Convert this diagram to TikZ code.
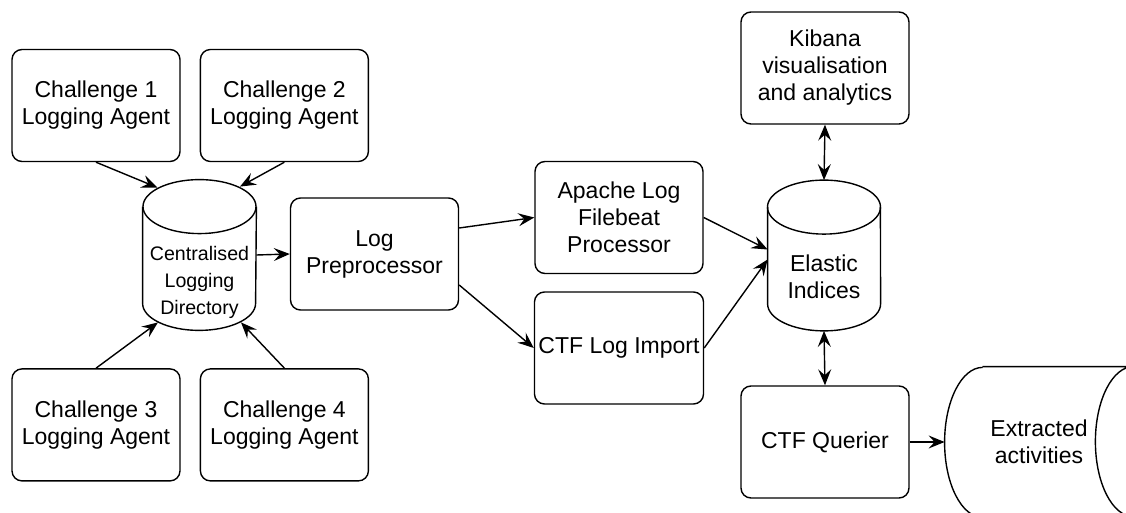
\documentclass[tikz,border=0pt]{standalone}
\usepackage{fontspec}
\setmainfont{Liberation Sans}
\usetikzlibrary{arrows.meta,positioning}
\tikzset{%
  agent/.style={draw,rounded corners=5pt,line width=0.7pt,align=center,
    minimum width=84pt,minimum height=56pt,inner sep=2pt,
    font=\fontsize{11.5}{13.5}\selectfont},
  store/.style={minimum width=56.5pt,minimum height=75pt,inner sep=0pt},
  storelabel/.style={align=center,inner sep=0pt},
  flow/.style={-{Stealth[length=8pt,width=6.5pt,inset=3pt]},line width=0.7pt},
  twoway/.style={{Stealth[length=8pt,width=6.5pt,inset=3pt]}-{Stealth[length=8pt,width=6.5pt,inset=3pt]},
    line width=0.7pt}
}
% cylinder outline round a store node
\newcommand{\drawstore}[1]{%
  \draw[line width=0.7pt] ([yshift=-13.5pt]#1.north) ellipse[x radius=28.25pt, y radius=13.5pt];
  \draw[line width=0.7pt] ([yshift=-13.5pt]#1.north west) -- ([yshift=13.5pt]#1.south west)
    arc[start angle=180, end angle=360, x radius=28.25pt, y radius=13.5pt]
    -- ([yshift=-13.5pt]#1.north east);}

\begin{document}
\begin{tikzpicture}[x=0.5pt,y=-0.5pt]
  \useasboundingbox (0,0) rectangle (1126,513);

  % challenge agents
  \node[agent] (ch1) at (96,105.5) {Challenge 1\\Logging Agent};
  \node[agent, right=9.5pt of ch1] (ch2) {Challenge 2\\Logging Agent};
  \node[agent, below=103pt of ch1] (ch3) {Challenge 3\\Logging Agent};
  \node[agent, right=9.5pt of ch3] (ch4) {Challenge 4\\Logging Agent};

  \node[store, label={[storelabel, yshift=-13.5pt, font=\fontsize{9.8}{13.5}\selectfont]center:Centralised\\Logging\\Directory}]
    (logdir) at (199.5,255) {};
  \drawstore{logdir}
  \node[agent] (prep) at (374.5,254) {Log\\Preprocessor};
  \node[agent] (apache) at (619,217.5) {Apache Log\\Filebeat\\Processor};
  \node[agent] (import) at (619,348) {CTF Log Import};
  \node[store, minimum width=56pt, label={[storelabel, yshift=-10.5pt, font=\fontsize{11.5}{13.5}\selectfont]center:Elastic\\Indices}]
    (elastic) at (824,255.5) {};
  \drawstore{elastic}
  \node[agent] (kibana) at (825,68) {Kibana\\visualisation\\and analytics};
  \node[agent] (querier) at (825,442) {CTF Querier};
  \node[align=center, minimum width=94pt, minimum height=75pt, inner sep=0pt,
    font=\fontsize{11.5}{13.5}\selectfont] (extract) at (1039,442) {Extracted\\activities};
  \draw[line width=0.7pt] ([xshift=19pt]extract.north west) -- (extract.north east)
    arc[start angle=90, end angle=270, x radius=19pt, y radius=37.5pt]
    -- ([xshift=19pt]extract.south west)
    arc[start angle=270, end angle=90, x radius=19pt, y radius=37.5pt];

  \draw[flow] (ch1.south) -- ([xshift=-21pt,yshift=-4pt]logdir.north);
  \draw[flow] (ch2.south) -- ([xshift=20.25pt,yshift=-3.5pt]logdir.north);
  \draw[flow] (ch3.north) -- ([xshift=-20.75pt,yshift=4pt]logdir.south);
  \draw[flow] (ch4.north) -- ([xshift=20.75pt,yshift=4pt]logdir.south);
  \draw[flow] (logdir.east) -- (prep.west);
  \draw[flow] ([yshift=13pt]prep.east) -- (apache.west);
  \draw[flow] ([yshift=-15.5pt]prep.east) -- (import.west);
  \draw[flow] (apache.east) -- ([yshift=3pt]elastic.west);
  \draw[flow] (import.east) -- ([yshift=-2pt]elastic.west);
  \draw[twoway] (kibana.south) -- (elastic.north);
  \draw[twoway] (elastic.south) -- (querier.north);
  \draw[flow] (querier.east) -- (extract.west);
\end{tikzpicture}
\end{document}
